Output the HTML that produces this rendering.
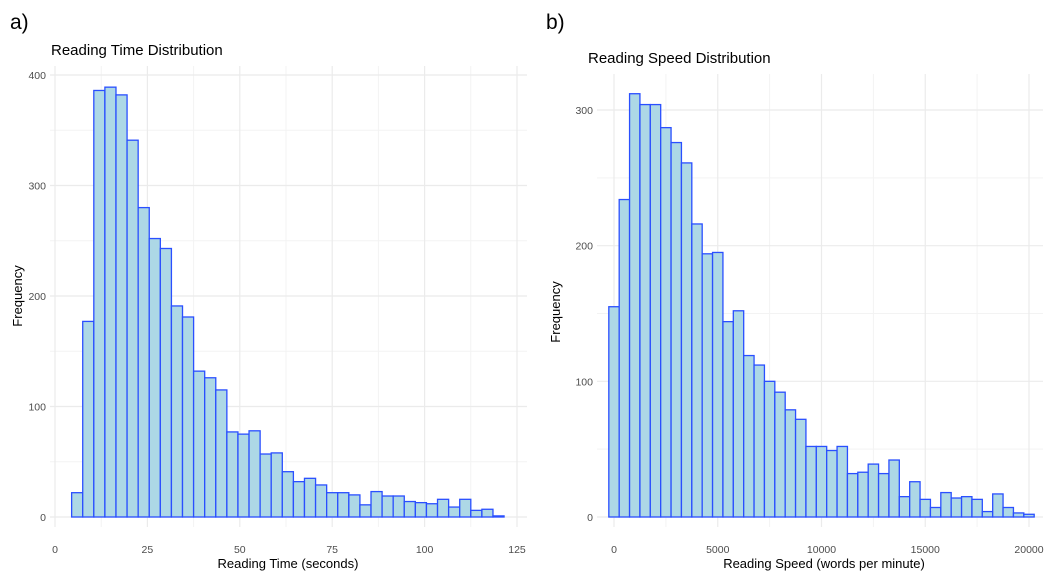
<!DOCTYPE html>
<html><head><meta charset="utf-8">
<style>
body{margin:0;background:#fff;font-family:"Liberation Sans",sans-serif;}
svg text{font-family:"Liberation Sans",sans-serif;}
</style></head>
<body>
<svg id="c" width="1057" height="581" xmlns="http://www.w3.org/2000/svg">
<text x="10" y="29" font-size="21" fill="#000">a)</text>
<text x="546" y="29" font-size="21" fill="#000">b)</text>
<text x="51" y="55" font-size="15" fill="#000">Reading Time Distribution</text>
<text x="588" y="63" font-size="15" fill="#000">Reading Speed Distribution</text>
<text x="288" y="568" font-size="13" text-anchor="middle" fill="#000">Reading Time (seconds)</text>
<text x="824" y="568" font-size="13" text-anchor="middle" fill="#000">Reading Speed (words per minute)</text>
<text transform="translate(22,296) rotate(-90)" font-size="13" text-anchor="middle" fill="#000">Frequency</text>
<text transform="translate(560,312) rotate(-90)" font-size="13" text-anchor="middle" fill="#000">Frequency</text>
<g id="left"></g>
<g id="right"></g>
</svg>
<script>
const leftCounts=[22,177,386,389,382,341,280,252,243,191,181,132,126,115,77,75,78,57,58,41,32,35,29,22,22,20,11,23,19,19,14,13,12,16,9,16,6,7,1];
const leftBinStart=4.5, leftBinWidth=3;
const leftXTicks=[0,25,50,75,100,125];
const leftYTicks=[0,100,200,300,400];
const rightCounts=[155,234,312,304,304,287,276,261,216,194,195,144,152,119,112,100,92,79,72,52,52,49,52,32,33,39,32,42,15,26,13,7,18,14,15,13,4,17,7,3,2];
const rightBinStart=-250, rightBinWidth=500;
const rightXTicks=[0,5000,10000,15000,20000];
const rightYTicks=[0,100,200,300];
const NS="http://www.w3.org/2000/svg";
function mk(g,tag,attrs){const e=document.createElementNS(NS,tag);for(const k in attrs)e.setAttribute(k,attrs[k]);g.appendChild(e);return e;}
function draw(gid,counts,bs,bw,xt,yt,cfg){
  const g=document.getElementById(gid);
  const sx=v=>cfg.x0+(v-cfg.xv0)*(cfg.x1-cfg.x0)/(cfg.xv1-cfg.xv0);
  const sy=v=>cfg.y0-v*(cfg.y0-cfg.y1)/cfg.yv1;
  for(let i=0;i<xt.length-1;i++){const m=(xt[i]+xt[i+1])/2;const l=mk(g,'line',{x1:sx(m),x2:sx(m),y1:cfg.pt,y2:cfg.pb,stroke:'#f3f3f3','stroke-width':1});
    }
  for(let i=0;i<yt.length;i++){const m=yt[i]+(yt[1]-yt[0])/2;if(sy(m)<cfg.pt)continue;const l=mk(g,'line',{x1:cfg.pl,x2:cfg.pr,y1:sy(m),y2:sy(m),stroke:'#f3f3f3','stroke-width':1});
    }
  xt.forEach(t=>{const l=mk(g,'line',{x1:sx(t),x2:sx(t),y1:cfg.pt,y2:cfg.pb,stroke:'#ebebeb','stroke-width':1.2});
    
    const tx=mk(g,'text',{x:sx(t),y:cfg.pb+26,'font-size':10.5,'text-anchor':'middle',fill:'#4d4d4d'});tx.textContent=t;
    });
  yt.forEach(t=>{const l=mk(g,'line',{x1:cfg.pl,x2:cfg.pr,y1:sy(t),y2:sy(t),stroke:'#ebebeb','stroke-width':1.2});
    
    const tx=mk(g,'text',{x:cfg.pl-4,y:sy(t)+4,'font-size':10.5,'text-anchor':'end',fill:'#4d4d4d'});tx.textContent=t;
    });
  counts.forEach((c,i)=>{const a=sx(bs+i*bw),b=sx(bs+(i+1)*bw);
    const r=mk(g,'rect',{x:a,y:sy(c),width:b-a,height:sy(0)-sy(c),fill:'#add8e6',stroke:'#2a4fff','stroke-width':1.3});
    });
}
draw('left',leftCounts,leftBinStart,leftBinWidth,leftXTicks,leftYTicks,{x0:55,xv0:0,x1:517,xv1:125,y0:517,y1:75,yv1:400,pl:50,pr:527,pt:66,pb:527});
draw('right',rightCounts,rightBinStart,rightBinWidth,rightXTicks,rightYTicks,{x0:614,xv0:0,x1:1029,xv1:20000,y0:517,y1:110,yv1:300,pl:597,pr:1043,pt:74,pb:527});
</script>
</body></html>
